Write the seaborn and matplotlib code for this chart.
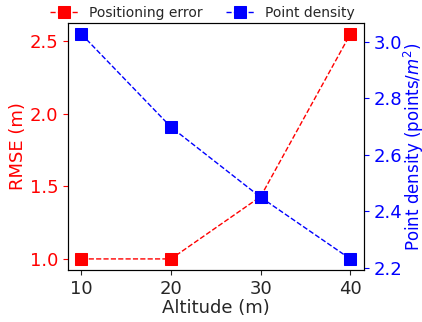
import matplotlib

matplotlib.use("Agg")

import matplotlib.pyplot as plt
import pandas as pd
import seaborn as sns

altitude = [10, 20, 30, 40]
rmse = [1.0, 1.0, 1.43, 2.55]
density = [3.027, 2.698, 2.45, 2.232]

df = pd.DataFrame({"altitude": altitude, "rmse": rmse, "density": density})

sns.set_style("ticks")
plt.rcParams["font.family"] = ["DejaVu Sans"]

fig, ax = plt.subplots(figsize=(4.22, 3.22), dpi=100)
fig.subplots_adjust(left=0.161, right=0.862, top=0.929, bottom=0.161)
ax2 = ax.twinx()

sns.lineplot(data=df, x="altitude", y="rmse", ax=ax, color="red", marker="s",
             markersize=9, linestyle="--", linewidth=1, markeredgecolor="red",
             label="Positioning error", legend=False)
sns.lineplot(data=df, x="altitude", y="density", ax=ax2, color="blue", marker="s",
             markersize=9, linestyle="--", linewidth=1, markeredgecolor="blue",
             label="Point density", legend=False)

ax.set_xticks(altitude)
ax.set_yticks([1.0, 1.5, 2.0, 2.5])
ax2.set_yticks([2.2, 2.4, 2.6, 2.8, 3.0])
ax.set_xlabel("Altitude (m)", fontsize=13, labelpad=1)
ax.set_ylabel("RMSE (m)", fontsize=13, color="red", labelpad=2)
ax2.set_ylabel("Point density (points/$m^2$)", fontsize=12, color="blue", labelpad=0)
ax.tick_params(axis="x", labelsize=13)
ax.tick_params(axis="y", labelsize=13, colors="red")
ax2.tick_params(axis="y", labelsize=13, colors="blue")
for spine in ax2.spines.values():
    spine.set_color("black")

h1, l1 = ax.get_legend_handles_labels()
h2, l2 = ax2.get_legend_handles_labels()
ax.legend(h1 + h2, l1 + l2, loc="lower center", bbox_to_anchor=(0.455, 0.99),
          ncol=2, frameon=False, fontsize=10, handlelength=2.0,
          borderaxespad=0.0, columnspacing=1.7)

fig.savefig("out.png", dpi=100)
